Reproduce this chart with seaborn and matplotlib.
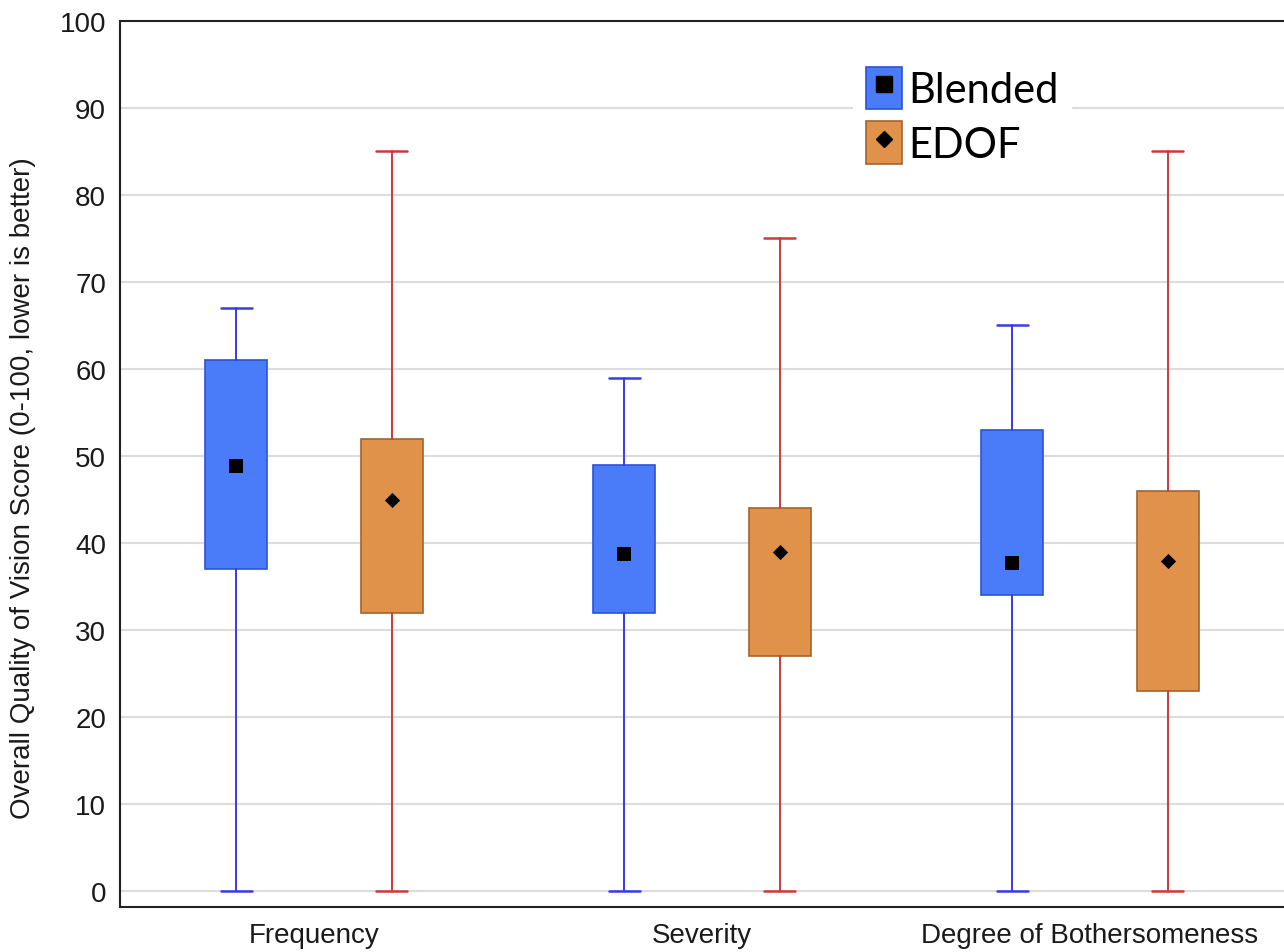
import matplotlib
matplotlib.use("Agg")
import matplotlib.pyplot as plt
from matplotlib.patches import Patch
from matplotlib.lines import Line2D
import pandas as pd
import seaborn as sns

categories = ["Frequency", "Severity", "Degree of Bothersomeness"]
groups = ["Blended", "EDOF"]

# five-number summaries
blended_min = [0, 0, 0]
blended_q1 = [37, 32, 34]
blended_med = [48.8, 38.7, 37.7]
blended_q3 = [61, 49, 53]
blended_max = [67, 59, 65]

edof_min = [0, 0, 0]
edof_q1 = [32, 27, 23]
edof_med = [44.9, 39.0, 37.9]
edof_q3 = [52, 44, 46]
edof_max = [85, 75, 85]

y_ticks = list(range(0, 101, 10))

box_color = {"Blended": "#4a7bf8", "EDOF": "#e0924b"}
edge_color = {"Blended": "#2f52d8", "EDOF": "#a3642e"}
whisker_color = {"Blended": "#3a3ae8", "EDOF": "#cc3b3b"}
marker_shape = {"Blended": "s", "EDOF": "D"}
marker_size = {"Blended": 115, "EDOF": 60}
offset = {"Blended": -0.2, "EDOF": 0.2}


def build_frame():
    rows = []
    for i, cat in enumerate(categories):
        rows.append({"category": cat, "group": "Blended", "idx": i,
                     "whislo": blended_min[i], "q1": blended_q1[i], "med": blended_med[i],
                     "q3": blended_q3[i], "whishi": blended_max[i]})
        rows.append({"category": cat, "group": "EDOF", "idx": i,
                     "whislo": edof_min[i], "q1": edof_q1[i], "med": edof_med[i],
                     "q3": edof_q3[i], "whishi": edof_max[i]})
    df = pd.DataFrame(rows)
    df["pos"] = df["idx"] + df["group"].map(offset)
    return df


def main():
    sns.set_style("white")
    plt.rcParams["font.family"] = ["Liberation Sans", "DejaVu Sans"]

    df = build_frame()

    fig = plt.figure(figsize=(12.84, 9.53), dpi=100)
    ax = fig.add_axes([120 / 1284, 45 / 953, 1 - 120 / 1284, (908 - 22) / 953])

    ax.set_axisbelow(True)
    ax.yaxis.grid(True, color="#dcdcdc", linewidth=1.5)

    for g in groups:
        sub = df[df["group"] == g]
        stats = [
            {"whislo": r.whislo, "q1": r.q1, "med": r.med, "q3": r.q3,
             "whishi": r.whishi, "fliers": []}
            for r in sub.itertuples()
        ]
        ax.bxp(
            stats,
            positions=sub["pos"].tolist(),
            widths=0.16,
            capwidths=0.08,
            patch_artist=True,
            showfliers=False,
            boxprops=dict(facecolor=box_color[g], edgecolor=edge_color[g], linewidth=1.2),
            whiskerprops=dict(color=whisker_color[g], linewidth=1.4),
            capprops=dict(color=whisker_color[g], linewidth=1.8),
            medianprops=dict(linewidth=0),
            zorder=2,
        )
        sns.scatterplot(
            data=sub, x="pos", y="med", marker=marker_shape[g], s=marker_size[g],
            color="black", edgecolor="black", linewidth=0, legend=False, ax=ax, zorder=4,
        )

    ax.set_xlim(-0.5, 2.5)
    ax.set_ylim(-1.85, 100)
    ax.set_xticks(range(len(categories)))
    ax.set_xticklabels(categories)
    ax.set_yticks(y_ticks)
    ax.set_xlabel("")
    ax.set_ylabel("Overall Quality of Vision Score (0-100, lower is better)",
                  fontsize=20, color="#1a1a1a")
    ax.yaxis.set_label_coords(-0.072, 0.474)
    ax.tick_params(axis="both", direction="in", length=6, width=1, colors="#1a1a1a",
                   labelsize=20, labelcolor="#1a1a1a")
    ax.tick_params(axis="x", pad=11)
    ax.tick_params(axis="y", pad=10)

    for side in ["left", "bottom", "top"]:
        ax.spines[side].set_color("#222222")
        ax.spines[side].set_linewidth(1.5)
    ax.spines["right"].set_visible(False)

    handles = []
    for g in groups:
        patch = Patch(facecolor=box_color[g], edgecolor=edge_color[g], linewidth=1.2)
        mark = Line2D([], [], linestyle="none", marker=marker_shape[g], color="black",
                      markersize=11 if g == "Blended" else 8)
        handles.append((patch, mark))
    leg = ax.legend(
        handles, groups,
        loc="upper left", bbox_to_anchor=(0.612, 0.986),
        prop={"family": ["Lato", "DejaVu Sans"], "size": 30},
        frameon=True, facecolor="white", edgecolor="white", framealpha=1,
        handlelength=0.86, handleheight=1.2, handletextpad=0.15,
        labelspacing=0.28, borderpad=0.3, fancybox=False,
    )
    for t in leg.get_texts():
        t.set_color("black")
    leg.set_zorder(5)

    fig.savefig("out.png", dpi=100)
    plt.close(fig)


if __name__ == "__main__":
    main()
